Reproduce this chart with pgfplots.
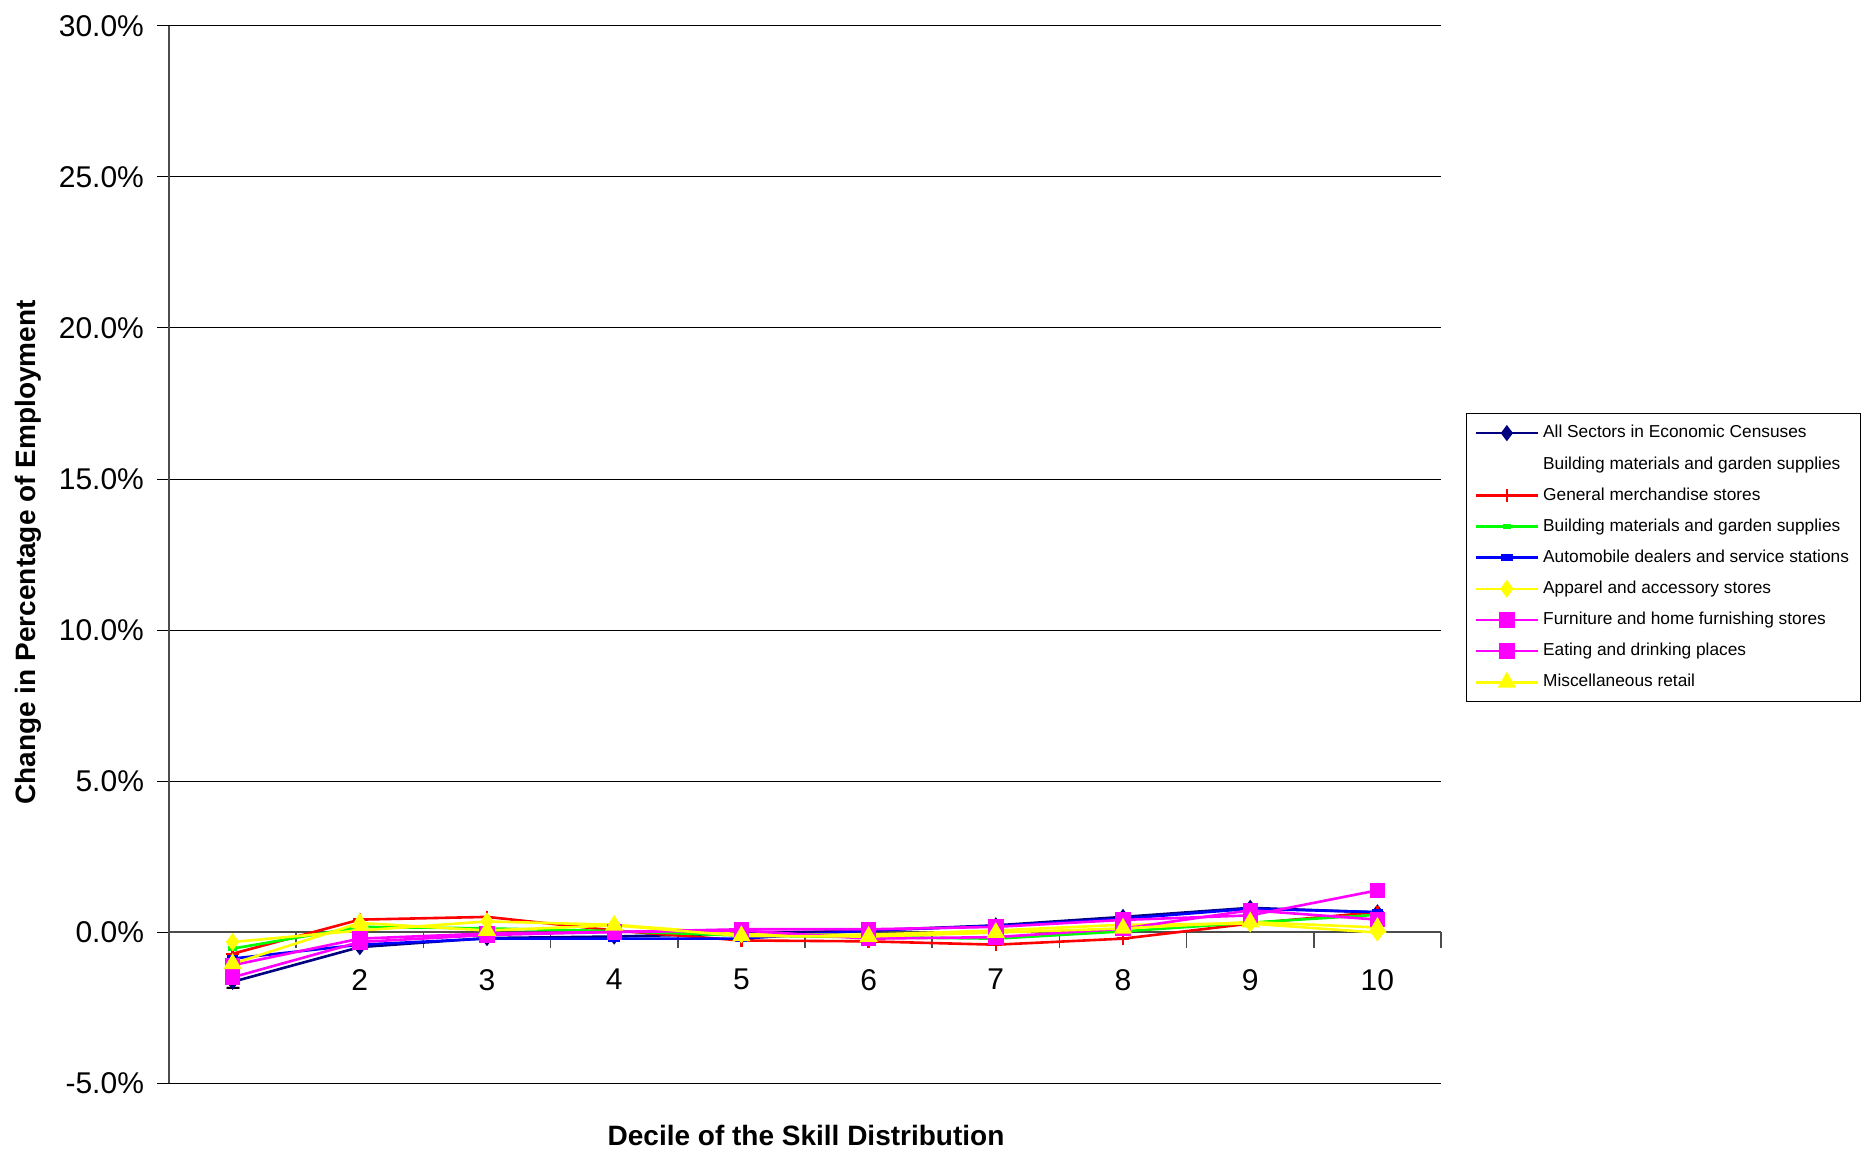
\documentclass[border=0pt]{standalone}
\usepackage{fontspec}
\setmainfont{Liberation Sans}
\usepackage{pgfplots}
\pgfplotsset{compat=1.18}
\definecolor{cnavy}{RGB}{0,0,128}
\definecolor{cred}{RGB}{255,0,0}
\definecolor{cgreen}{RGB}{0,255,0}
\definecolor{cblue}{RGB}{0,0,255}
\definecolor{cyellow}{RGB}{255,255,0}
\definecolor{cmag}{RGB}{255,0,255}
\begin{document}
\begin{tikzpicture}
\begin{axis}[
 scale only axis, width=636pt, height=528.5pt,
 at={(0,0)}, anchor=south west,
 xmin=0.5, xmax=10.5, ymin=-5, ymax=30,
 axis x line*=middle, axis y line*=left,
 hide obscured x ticks=false, hide obscured y ticks=false,
 /pgf/number format/assume math mode=true,
 xtick={1,...,10},
 major x tick style={draw=none},
 minor xtick={0.5,1.5,...,10.5},
 minor x tick style={black!70, line width=0.8pt},
 xtick align=outside,
 minor tick length=8pt,
 xticklabel style={font=\fontsize{15}{18}\selectfont, yshift=-9pt},
 ytick={-5,0,...,30},
 yticklabels={-5.0\%,0.0\%,5.0\%,10.0\%,15.0\%,20.0\%,25.0\%,30.0\%},
 yticklabel style={font=\fontsize{15}{18}\selectfont, xshift=-3pt},
 ytick align=outside,
 major y tick style={black, line width=0.5pt},
 major tick length=6pt,
 ymajorgrids, major grid style={black, line width=0.5pt},
 axis line style={black!70, line width=1pt},
 xlabel={Decile of the Skill Distribution},
 xlabel style={font=\bfseries\fontsize{14}{16}\selectfont, at={(axis description cs:0.5008,-0.0492)}, anchor=center},
 ylabel={Change in Percentage of Employment},
 ylabel style={font=\bfseries\fontsize{14}{16}\selectfont, at={(axis description cs:-0.1104,0.502)}, anchor=center, rotate=0},
 legend style={at={(1.0197,0.634)}, anchor=north west, font=\fontsize{8.65}{10.2}\selectfont,
   draw=black, line width=0.5pt, row sep=3.8pt, inner xsep=4pt, inner ysep=4pt,
   cells={anchor=west}},
 legend image code/.code={\draw[mark repeat=2,mark phase=2,#1] plot coordinates {(0pt,0pt)(15.5pt,0pt)(31pt,0pt)};},
 clip=false,
]
\addplot[cnavy, line width=1.3pt, mark=diamond*, mark size=3pt, mark options={solid}] coordinates {
 (1,-1.65) (2,-0.50) (3,-0.20) (4,-0.15) (5,-0.05) (6,0.05) (7,0.22) (8,0.50) (9,0.80) (10,0.65)};
\addlegendentry{All Sectors in Economic Censuses}
\addlegendimage{white, line width=1.3pt}
\addlegendentry{Building materials and garden supplies}
\addplot[cred, line width=1.3pt, mark=+, mark size=3.2pt, mark options={solid, line width=1.2pt}] coordinates {
 (1,-0.72) (2,0.41) (3,0.50) (4,0.05) (5,-0.28) (6,-0.31) (7,-0.42) (8,-0.22) (9,0.28) (10,0.66)};
\addlegendentry{General merchandise stores}
\addplot[cgreen, line width=1.3pt, mark=square*, mark size=1.5pt, mark options={solid, yscale=0.5}] coordinates {
 (1,-0.55) (2,0.17) (3,0.12) (4,0.03) (5,-0.12) (6,-0.17) (7,-0.22) (8,0.02) (9,0.31) (10,0.57)};
\addlegendentry{Building materials and garden supplies}
\addplot[cblue, line width=1.3pt, mark=square*, mark size=2.3pt, mark options={solid, yscale=0.45}] coordinates {
 (1,-0.88) (2,-0.42) (3,-0.22) (4,-0.22) (5,-0.22) (6,0.05) (7,0.20) (8,0.44) (9,0.77) (10,0.66)};
\addlegendentry{Automobile dealers and service stations}
\addplot[cyellow, line width=1.3pt, mark=diamond*, mark size=3.4pt, mark options={solid}] coordinates {
 (1,-0.33) (2,0.05) (3,0.35) (4,0.24) (5,-0.08) (6,-0.09) (7,0.05) (8,0.24) (9,0.28) (10,-0.02)};
\addlegendentry{Apparel and accessory stores}
\addplot[cmag, line width=1.3pt, mark=square*, mark size=3.2pt, mark options={solid}] coordinates {
 (1,-1.10) (2,-0.22) (3,-0.05) (4,0.00) (5,0.09) (6,0.09) (7,0.17) (8,0.40) (9,0.55) (10,1.38)};
\addlegendentry{Furniture and home furnishing stores}
\addplot[cmag, line width=1.3pt, mark=square*, mark size=3.2pt, mark options={solid}] coordinates {
 (1,-1.50) (2,-0.33) (3,-0.10) (4,0.00) (5,0.05) (6,-0.22) (7,-0.17) (8,0.11) (9,0.72) (10,0.41)};
\addlegendentry{Eating and drinking places}
\addplot[cyellow, line width=1.3pt, mark=triangle*, mark size=4pt, mark options={solid}] coordinates {
 (1,-1.05) (2,0.30) (3,0.05) (4,0.22) (5,-0.13) (6,-0.15) (7,-0.02) (8,0.12) (9,0.33) (10,0.15)};
\addlegendentry{Miscellaneous retail}
\end{axis}
\pgfresetboundingbox
\useasboundingbox (-84.5pt,-34.5pt) rectangle (851pt,541.5pt);
\end{tikzpicture}
\end{document}
